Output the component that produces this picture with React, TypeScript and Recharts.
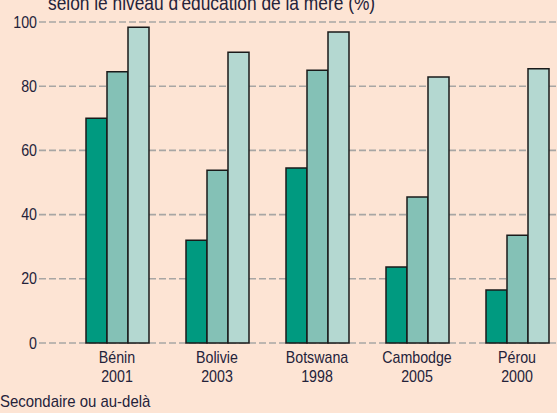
import React from "react";
import { BarChart, Bar, XAxis, YAxis, CartesianGrid } from "recharts";

const countries = ["Bénin", "Bolivie", "Botswana", "Cambodge", "Pérou"];
const years = ["2001", "2003", "1998", "2005", "2000"];
const aucune = [70, 32, 54.5, 23.7, 16.5];
const primaire = [84.5, 53.8, 85, 45.5, 33.6];
const secondaire = [98.4, 90.6, 96.9, 82.9, 85.4];
const yTicks = [0, 20, 40, 60, 80, 100];

const title = "selon le niveau d'éducation de la mère (%)";
const legendLabel = "Secondaire ou au-delà";

const data = countries.map((c, i) => ({
  name: c,
  year: years[i],
  aucune: aucune[i],
  primaire: primaire[i],
  secondaire: secondaire[i],
}));

const FONT = "'Liberation Sans', Arial, sans-serif";
const TEXT = "#24223a";
const BG = "#fde4d4";
const SX = 0.89;

const XTick = (props: any) => {
  const { x, y, payload, index } = props;
  const d = data[index] || data.find((r) => r.name === payload.value);
  return (
    <g transform={`translate(${x},${y})`}>
      <g transform={`scale(${SX},1)`}>
        <text x={0} y={20} textAnchor="middle" fill={TEXT} fontSize={16} fontFamily={FONT}>
          {payload.value}
        </text>
        <text x={0} y={39} textAnchor="middle" fill={TEXT} fontSize={16} fontFamily={FONT}>
          {d ? d.year : ""}
        </text>
      </g>
    </g>
  );
};

const YTick = (props: any) => {
  const { x, y, payload } = props;
  return (
    <g transform={`translate(${x},${y})`}>
      <text
        transform={`scale(${SX},1)`}
        x={0}
        y={0}
        dy="0.355em"
        textAnchor="end"
        fill={TEXT}
        fontSize={16}
        fontFamily={FONT}
      >
        {payload.value}
      </text>
    </g>
  );
};

export default function App() {
  return (
    <div
      style={{
        position: "absolute",
        left: 0,
        top: 0,
        width: 557,
        height: 413,
        overflow: "hidden",
        background: BG,
      }}
    >
      <BarChart
        width={567}
        height={413}
        data={data}
        margin={{ top: 22, right: 0, bottom: 0, left: 0 }}
        barGap={0}
        barSize={21}
        style={{ position: "absolute", left: 0, top: 0 }}
      >
        <CartesianGrid
          vertical={false}
          stroke="#a8a6a4"
          strokeWidth={1.6}
          strokeDasharray="7 3"
        />
        <XAxis
          dataKey="name"
          axisLine={false}
          tickLine={false}
          tickSize={0}
          tickMargin={0}
          height={70}
          padding={{ left: 28, right: 0 }}
          tick={<XTick />}
          interval={0}
        />
        <YAxis
          width={39}
          domain={[0, 100]}
          ticks={yTicks}
          axisLine={false}
          tickLine={false}
          tickSize={0}
          tickMargin={2}
          tick={<YTick />}
          interval={0}
        />
        <Bar dataKey="aucune" fill="#009a80" stroke="#1a1a1a" strokeWidth={1.5} isAnimationActive={false} />
        <Bar dataKey="primaire" fill="#84c1b6" stroke="#1a1a1a" strokeWidth={1.5} isAnimationActive={false} />
        <Bar dataKey="secondaire" fill="#b4d8d1" stroke="#1a1a1a" strokeWidth={1.5} isAnimationActive={false} />
      </BarChart>
      <svg
        width={557}
        height={413}
        style={{ position: "absolute", left: 0, top: 0, pointerEvents: "none" }}
      >
        <text
          transform={`translate(48,10) scale(${SX},1)`}
          x={0}
          y={0}
          fill={TEXT}
          fontSize={19.5}
          fontFamily={FONT}
        >
          {title}
        </text>
        <text
          transform={`translate(0,407) scale(${SX},1)`}
          x={0}
          y={0}
          fill={TEXT}
          fontSize={16.8}
          fontFamily={FONT}
        >
          {legendLabel}
        </text>
      </svg>
    </div>
  );
}
